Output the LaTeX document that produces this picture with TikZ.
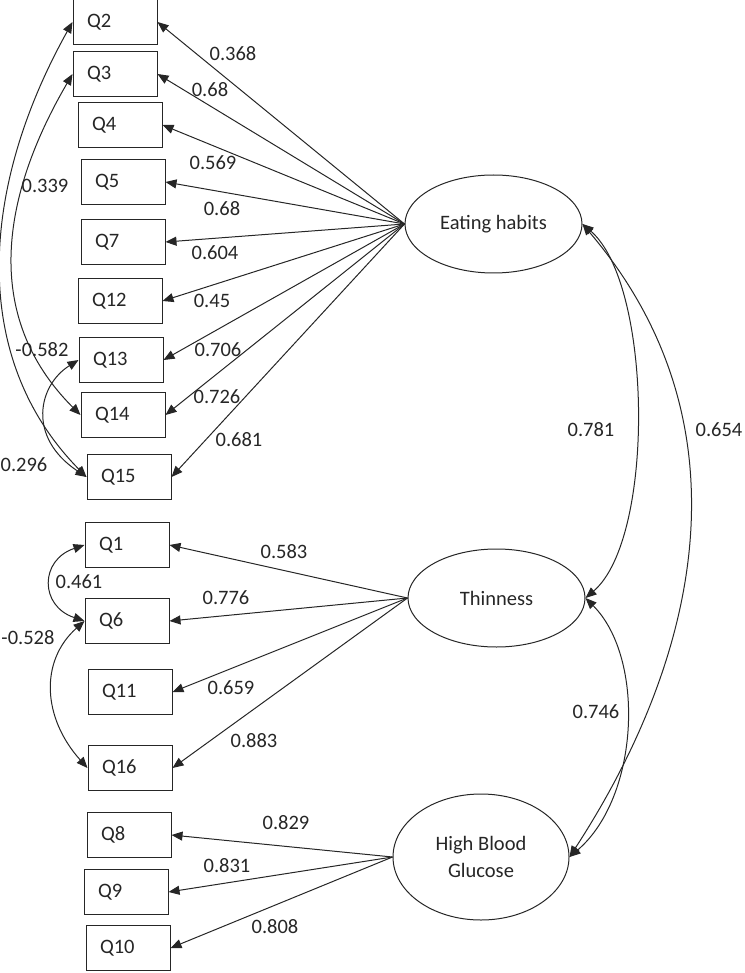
\documentclass[tikz,border=0pt]{standalone}
\usepackage{fontspec}
\setmainfont{Carlito}
\usetikzlibrary{arrows.meta,shapes.geometric}
\begin{document}
\begin{tikzpicture}[x=1pt,y=1pt,line width=1pt,
    font=\fontsize{20.5pt}{27pt}\selectfont,text=black!85]
  \tikzstyle{item}=[draw=black!85,rectangle,minimum height=45pt,text width=56pt,inner xsep=14pt,align=left]
  \tikzstyle{factor}=[draw=black!85,ellipse,minimum width=177pt,minimum height=98pt,inner sep=0pt,align=center]
  \tikzstyle{load}=[draw=black!85,-{Triangle[length=11pt,width=9pt]}]
  \tikzstyle{cov}=[draw=black!85,{Triangle[length=11pt,width=9pt]}-{Triangle[length=11pt,width=9pt]}]
  \tikzstyle{coef}=[inner sep=0pt]
  \useasboundingbox (0,0) rectangle (744,-973);

  % observed items
  \node[item] (Q2) at (115,-22) {Q2};
  \node[item] (Q3) at (115,-74) {Q3};
  \node[item] (Q4) at (120,-125) {Q4};
  \node[item] (Q5) at (123,-182) {Q5};
  \node[item] (Q7) at (123,-242) {Q7};
  \node[item] (Q12) at (120,-301) {Q12};
  \node[item] (Q13) at (121,-360) {Q13};
  \node[item] (Q14) at (123,-415) {Q14};
  \node[item] (Q15) at (129,-477) {Q15};

  \node[item] (Q1) at (127,-545) {Q1};
  \node[item] (Q6) at (127,-621) {Q6};
  \node[item] (Q11) at (130,-692) {Q11};
  \node[item] (Q16) at (130,-768) {Q16};

  \node[item] (Q8) at (129,-835) {Q8};
  \node[item] (Q9) at (126,-892) {Q9};
  \node[item] (Q10) at (128,-948) {Q10};

  % latent factors
  \node[factor] (EH) at (493.5,-224) {Eating habits};
  \node[factor] (TH) at (496.5,-598) {Thinness};
  \node[factor,minimum width=176pt,minimum height=126pt] (HBG) at (481,-857) {High Blood\\Glucose};

  % loadings
  \draw[load] (EH.west) -- (Q2.east);
  \draw[load] (EH.west) -- (Q3.east);
  \draw[load] (EH.west) -- (Q4.east);
  \draw[load] (EH.west) -- (Q5.east);
  \draw[load] (EH.west) -- (Q7.east);
  \draw[load] (EH.west) -- (Q12.east);
  \draw[load] (EH.west) -- (Q13.east);
  \draw[load] (EH.west) -- (Q14.east);
  \draw[load] (EH.west) -- (Q15.east);

  \draw[load] (TH.west) -- (Q1.east);
  \draw[load] (TH.west) -- (Q6.east);
  \draw[load] (TH.west) -- (Q11.east);
  \draw[load] (TH.west) -- (Q16.east);

  \draw[load] (HBG.west) -- (Q8.east);
  \draw[load] (HBG.west) -- (Q9.east);
  \draw[load] (HBG.west) -- (Q10.east);

  % error covariances
  \draw[cov] (Q2.west) .. controls +(-92,-165) and +(-118,120) .. (Q15.west);
  \draw[cov] (Q3.west) .. controls +(-70,-120) and +(-100,100) .. (Q14.west);
  \draw[cov] (Q13.west) .. controls +(-40,-25) and +(-60,40) .. (Q15.west);
  \draw[cov] (Q1.west) .. controls +(-45,-15) and +(-45,15) .. (Q6.west);
  \draw[cov] (Q6.west) .. controls +(-45,-40) and +(-45,50) .. (Q16.west);

  % factor covariances
  \draw[cov] (EH.east) .. controls +(70,-60) and +(70,60) .. (TH.east);
  \draw[cov] (EH.east) .. controls +(170,-200) and +(130,200) .. (HBG.east);
  \draw[cov] (TH.east) .. controls +(60,-60) and +(70,60) .. (HBG.east);

  % coefficients
  \node[coef] (c2) at (233,-54) {0.368};
  \node[coef] (c3) at (210,-90) {0.68};
  \node[coef] (c4) at (213,-163) {0.569};
  \node[coef] (c5) at (222,-209) {0.68};
  \node[coef] (c7) at (215,-253) {0.604};
  \node[coef] (c12) at (212,-301) {0.45};
  \node[coef] (c13) at (218,-350) {0.706};
  \node[coef] (c14) at (217,-397) {0.726};
  \node[coef] (c15) at (239,-440) {0.681};
  \node[coef] (c1) at (284,-552) {0.583};
  \node[coef] (c6) at (226,-598) {0.776};
  \node[coef] (c11) at (231,-688) {0.659};
  \node[coef] (c16) at (254,-741) {0.883};
  \node[coef] (c8) at (286,-823) {0.829};
  \node[coef] (c9) at (227,-866) {0.831};
  \node[coef] (c10) at (275,-927) {0.808};

  \node[coef] (r215) at (24,-465) {0.296};
  \node[coef] (r314) at (45,-186) {0.339};
  \node[coef] (r1315) at (42,-350) {-0.582};
  \node[coef] (r16) at (79,-582) {0.461};
  \node[coef] (r616) at (28,-638) {-0.528};

  \node[coef] (rEHTH) at (591,-430) {0.781};
  \node[coef] (rEHHBG) at (719,-430) {0.654};
  \node[coef] (rTHHBG) at (596,-712) {0.746};

\end{tikzpicture}
\end{document}
